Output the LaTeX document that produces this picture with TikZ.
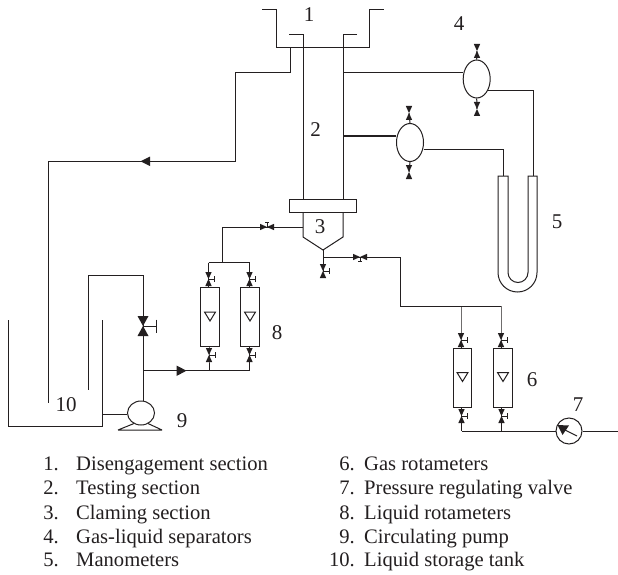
\documentclass[tikz,border=0pt]{standalone}
\usepackage{fontspec}
\setmainfont{Liberation Serif}
\usetikzlibrary{shapes.geometric,arrows.meta,calc}
\newcommand{\VertValve}[4]{% name, x, y, handle(1/0)
  \coordinate (#1) at (#2,#3);
  \begin{scope}[shift={(#2,#3)}]
    \fill[ink] (-3.2,-7) -- (3.2,-7) -- (0,0) -- cycle;
    \fill[ink] (-3.2,7) -- (3.2,7) -- (0,0) -- cycle;
    \ifnum#4=1 \draw[pipe] (0,0) -- (6,0) (6,-2.6) -- (6,2.6);\fi
  \end{scope}}
\newcommand{\HorzValve}[4]{% name, x, y, handle direction (+1 down, -1 up)
  \coordinate (#1) at (#2,#3);
  \begin{scope}[shift={(#2,#3)}]
    \fill[ink] (-7,-3.2) -- (-7,3.2) -- (0,0) -- cycle;
    \fill[ink] (7,-3.2) -- (7,3.2) -- (0,0) -- cycle;
    \draw[pipe] (0,0) -- (0,#4*4.5) (-2,#4*4.5) -- (2,#4*4.5);
  \end{scope}}
\newcommand{\Float}[2]{\draw[pipe] (#1-5.5,#2-4.5) -- (#1+5.5,#2-4.5) -- (#1,#2+4.5) -- cycle;}
\definecolor{ink}{HTML}{231F20}
\tikzset{
  pipe/.style={draw=ink,line width=1pt,line join=miter},
  rotameter/.style={draw=ink,line width=1pt,minimum width=18.5pt,minimum height=59pt,inner sep=0pt},
  separator/.style={ellipse,draw=ink,line width=1pt,minimum width=27pt,minimum height=38pt,inner sep=0pt},
  pumpbody/.style={ellipse,draw=ink,line width=1pt,minimum width=27pt,minimum height=24pt,inner sep=0pt},
  gauge/.style={circle,draw=ink,line width=1pt,minimum size=26pt,inner sep=0pt},
  flange/.style={draw=ink,line width=1pt,minimum width=67pt,minimum height=13pt,inner sep=0pt},
  num/.style={text=ink,font=\fontsize{21}{23}\selectfont,inner sep=0pt},
  legend/.style={text=ink,font=\fontsize{20.6}{24}\selectfont,inner sep=0pt,anchor=base west},
  legendn/.style={text=ink,font=\fontsize{20.6}{24}\selectfont,inner sep=0pt,anchor=base east},
  flow/.style={fill=ink,draw=none}
}
\begin{document}
\begin{tikzpicture}[x=1pt,y=-1pt]
\useasboundingbox (0,0) rectangle (618,575);
\fill[white] (0,0) rectangle (618,575);

% disengagement section and column
\draw[pipe] (262,9.5) -- (276,9.5) -- (276,48) -- (369.5,48) -- (369.5,9.5) -- (384,9.5);
\node[flange] (fl) at (323,205.5) {};
\draw[pipe] (289,35) -- (303,35) -- (303,199);
\draw[pipe] (357,35) -- (343,35) -- (343,199);
\draw[pipe] (303,212) -- (303,237) -- (323,250) -- (343,237) -- (343,212);
\coordinate (funnel) at (323,250);

% gas outlet to tank
\coordinate (o1) at (290,48);
\coordinate (o2) at (290,72.7);
\coordinate (o3) at (235.7,72.7);
\coordinate (o4) at (235.7,161.3);
\coordinate (o5) at (48.5,161.3);
\coordinate (o6) at (48.5,402.5);
\draw[pipe] (o1) -- (o2) -- (o3) -- (o4) -- (o5) -- (o6);
\fill[flow] (140.5,161.3) -- (150,156.5) -- (150,166) -- cycle;

% gas-liquid separators
\node[separator] (s1) at (476.7,79) {};
\node[separator] (s2) at (410,142.5) {};
\draw[pipe] (343,73) -- (s1.west |- 0,73);
\draw[pipe] (343,136) -- (s2.west |- 0,136);
\VertValve{s1t}{477}{51}{0}
\VertValve{s1b}{477}{109}{0}
\VertValve{s2t}{409}{113}{0}
\VertValve{s2b}{409}{172}{0}
\draw[pipe] (s1t) -- (s1.north) (s1b) -- (s1.south);
\draw[pipe] (s2t) -- (s2.north) (s2b) -- (s2.south);

% manometer
\coordinate (mr) at (533,176);
\coordinate (ml) at (503,176);
\draw[pipe] (488,91) -- (mr |- 0,91) -- (mr);
\draw[pipe] (423.5,149) -- (ml |- 0,149) -- (ml);
\draw[pipe] (498,176) -- (498,272.5) arc[start angle=180,end angle=0,x radius=19.5,y radius=19.5] -- (537,176) -- (528,176) -- (528,272.5) arc[start angle=0,end angle=180,x radius=10,y radius=10] -- (508,176) -- cycle;

% liquid feed: bottom of section 3
\VertValve{drain}{323}{271}{1}
\draw[pipe] (funnel) -- (drain);
\HorzValve{gv}{360}{257}{1}
\coordinate (g1) at (400,257);
\coordinate (g2) at (400,306);
\coordinate (g3) at (501,306);
\draw[pipe] (323,257) -- (g1) -- (g2) -- (g3);

% gas rotameters
\node[rotameter] (r61) at (462.5,377.5) {};
\node[rotameter] (r62) at (503,377.5) {};
\Float{462.5}{377}
\Float{503}{377}
\VertValve{v61t}{461}{340}{1}
\VertValve{v62t}{501}{340}{1}
\VertValve{v61b}{461.5}{416}{1}
\VertValve{v62b}{501.5}{416}{1}
\draw[pipe] (461,306) -- (v61t) -- (v61t |- r61.north);
\draw[pipe] (v62t |- g3) -- (v62t) -- (v62t |- r62.north);
\coordinate (b6) at (461.5,431);
\draw[pipe] (v61b |- r61.south) -- (v61b) -- (b6);
\draw[pipe] (v62b |- r62.south) -- (v62b) -- (v62b |- b6);

% pressure regulating valve
\node[gauge] (pv) at (569,431) {};
\coordinate (pout) at (618,431);
\draw[pipe] (b6) -- (pv) (pv) -- (pout);
\draw[pipe] (pv.center) ++(8,5) -- (559,427);
\fill[ink] (557.5,425) -- (569,425.5) -- (562.5,435) -- cycle;

% upper line to liquid rotameters
\HorzValve{lv}{267}{227}{-1}
\coordinate (l1) at (222.7,227);
\coordinate (l2) at (222.7,262.7);
\draw[pipe] (303,227) -- (l1) -- (l2);
\draw[pipe] (208.5,262.7) -- (249.5,262.7);

% liquid rotameters
\node[rotameter] (r81) at (210.2,317) {};
\node[rotameter] (r82) at (250.2,317) {};
\Float{210}{316.5}
\Float{250}{316.5}
\VertValve{v81t}{208.5}{279}{1}
\VertValve{v82t}{249.5}{279}{1}
\VertValve{v81b}{209}{355}{1}
\VertValve{v82b}{249.5}{355}{1}
\draw[pipe] (208.5,262.7) -- (v81t) -- (v81t |- r81.north);
\draw[pipe] (249.5,262.7) -- (v82t) -- (v82t |- r82.north);
\draw[pipe] (v81b |- r81.south) -- (v81b) -- (209,370.7);
\draw[pipe] (v82b |- r82.south) -- (v82b) -- (249.5,370.7);

% tank, pump, return line
\draw[pipe] (8.7,320) -- (8.7,426.7) -- (102,426.7) -- (102,320);
\node[pumpbody] (pump) at (141,413) {};
\coordinate (pb) at (143,401);
\draw[pipe] (102,414.7) -- (pump.west |- 0,414.7);
\draw[pipe] (118,430) -- (162,430) (118,430) -- (134,423.5) (162,430) -- (148,423.5);
\draw[pipe] (pb) -- (143,275) -- (88.7,275) -- (88.7,390);
\draw[pipe] (143,370.7) -- (249.5,370.7);
\fill[flow] (186.5,370.7) -- (176.5,365.5) -- (176.5,376) -- cycle;
% main valve
\coordinate (mv) at (143,326);
\fill[ink] (137.5,316) -- (148.5,316) -- (143,326) -- cycle;
\fill[ink] (137.5,336) -- (148.5,336) -- (143,326) -- cycle;
\draw[pipe] (mv) -- (156,326) (156,319.5) -- (156,333);

% numerals
\node[num] (n1) at (309,15) {1};
\node[num] (n2) at (315.5,130) {2};
\node[num] (n3) at (320,227) {3};
\node[num] (n4) at (459,24) {4};
\node[num] (n5) at (557,222) {5};
\node[num] (n6) at (532,380) {6};
\node[num] (n7) at (578,405) {7};
\node[num] (n8) at (277,333) {8};
\node[num] (n9) at (182,421) {9};
\node[num] (n10) at (66,405) {10};

% legend
\node[legendn] (a1) at (59,470.5) {1.};
\node[legend] (t1) at (76,470.5) {Disengagement section};
\node[legendn] (a2) at (59,494.5) {2.};
\node[legend] (t2) at (76,494.5) {Testing section};
\node[legendn] (a3) at (59,519) {3.};
\node[legend] (t3) at (76,519) {Claming section};
\node[legendn] (a4) at (59,543) {4.};
\node[legend] (t4) at (76,543) {Gas-liquid separators};
\node[legendn] (a5) at (59,566.5) {5.};
\node[legend] (t5) at (76,566.5) {Manometers};
\node[legendn] (b1) at (355,470.5) {6.};
\node[legend] (u1) at (364,470.5) {Gas rotameters};
\node[legendn] (b2) at (355,494.5) {7.};
\node[legend] (u2) at (364,494.5) {Pressure regulating valve};
\node[legendn] (b3) at (355,519) {8.};
\node[legend] (u3) at (364,519) {Liquid rotameters};
\node[legendn] (b4) at (355,543) {9.};
\node[legend] (u4) at (364,543) {Circulating pump};
\node[legendn] (b5) at (355,566.5) {10.};
\node[legend] (u5) at (364,566.5) {Liquid storage tank};
\end{tikzpicture}
\end{document}
